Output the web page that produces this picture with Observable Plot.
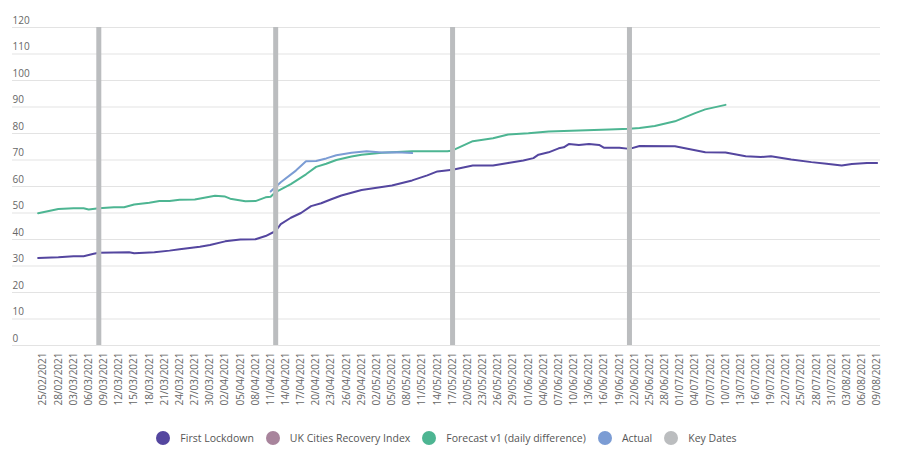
<!DOCTYPE html>
<html>
<head>
<meta charset="utf-8">
<script src="https://cdn.jsdelivr.net/npm/d3@7"></script>
<script src="https://cdn.jsdelivr.net/npm/@observablehq/plot@0.6"></script>
<style>
  html, body { margin: 0; padding: 0; background: #fff; }
  body { width: 900px; height: 460px; overflow: hidden; font-family: "Open Sans", sans-serif; }
  #legend { display: flex; justify-content: center; align-items: center; height: 36px; padding-right: 7px;
            font-size: 10.5px; color: #555; }
  .item { display: flex; align-items: center; margin: 0 6px; }
  .dot { width: 14px; height: 14px; border-radius: 50%; margin-right: 10px; }
</style>
</head>
<body>
<div id="chart"></div>
<div id="legend"></div>
<script>
// ---- Data ----
const lockdownDates = ["2021-02-24","2021-02-28","2021-03-03","2021-03-05","2021-03-07","2021-03-08","2021-03-14","2021-03-15","2021-03-19","2021-03-22","2021-03-24","2021-03-28","2021-03-30","2021-04-02","2021-04-05","2021-04-08","2021-04-10","2021-04-12","2021-04-13","2021-04-15","2021-04-17","2021-04-19","2021-04-21","2021-04-23","2021-04-25","2021-04-29","2021-05-05","2021-05-09","2021-05-12","2021-05-14","2021-05-17","2021-05-21","2021-05-25","2021-05-28","2021-05-31","2021-06-02","2021-06-03","2021-06-05","2021-06-07","2021-06-08","2021-06-09","2021-06-11","2021-06-13","2021-06-15","2021-06-16","2021-06-19","2021-06-21","2021-06-23","2021-06-30","2021-07-06","2021-07-10","2021-07-14","2021-07-17","2021-07-19","2021-07-23","2021-07-27","2021-07-30","2021-08-02","2021-08-04","2021-08-07","2021-08-09"];
const lockdownValues = [33,33.3,33.7,33.7,34.6,35.0,35.2,34.8,35.2,35.8,36.3,37.3,37.9,39.3,40.0,40.1,41.3,43.2,45.8,48.2,50.0,52.6,53.7,55.2,56.6,58.7,60.4,62.3,64.2,65.7,66.3,67.9,67.9,68.9,69.8,70.7,72.0,72.9,74.4,74.8,76.0,75.7,76.0,75.7,74.6,74.6,74.2,75.3,75.2,72.9,72.8,71.4,71.1,71.4,70.2,69.2,68.6,67.9,68.5,68.9,68.9];

const forecastDates = ["2021-02-24","2021-02-28","2021-03-03","2021-03-05","2021-03-06","2021-03-08","2021-03-11","2021-03-13","2021-03-15","2021-03-18","2021-03-20","2021-03-22","2021-03-24","2021-03-27","2021-03-31","2021-04-02","2021-04-03","2021-04-06","2021-04-08","2021-04-10","2021-04-11","2021-04-12","2021-04-15","2021-04-18","2021-04-20","2021-04-22","2021-04-24","2021-04-27","2021-04-29","2021-05-03","2021-05-09","2021-05-16","2021-05-17","2021-05-21","2021-05-25","2021-05-28","2021-06-01","2021-06-05","2021-06-11","2021-06-17","2021-06-21","2021-06-23","2021-06-26","2021-06-30","2021-07-04","2021-07-06","2021-07-10"];
const forecastValues = [49.9,51.5,51.8,51.8,51.3,51.8,52.2,52.2,53.2,53.9,54.5,54.5,55.0,55.1,56.5,56.2,55.4,54.4,54.5,55.9,56.1,57.9,60.9,64.6,67.4,68.6,70.0,71.3,72.0,72.7,73.3,73.3,73.6,77.1,78.2,79.6,80.1,80.8,81.1,81.5,81.8,82.1,82.8,84.6,87.7,89.1,90.8];

const actualDates = ["2021-04-11","2021-04-13","2021-04-16","2021-04-18","2021-04-20","2021-04-22","2021-04-24","2021-04-27","2021-04-30","2021-05-03","2021-05-06","2021-05-09"];
const actualValues = [58.1,61.6,66.0,69.5,69.6,70.6,71.8,72.7,73.3,72.8,72.9,72.6];

const keyDates = ["2021-03-08","2021-04-12","2021-05-17","2021-06-21"];

const yTicks = [0,10,20,30,40,50,60,70,80,90,100,110,120];
const xTickStart = "2021-02-25";
const xTickEnd = "2021-08-09";
const xDomain = ["2021-02-24","2021-08-09"];

const seriesNames = ["First Lockdown","UK Cities Recovery Index","Forecast v1 (daily difference)","Actual","Key Dates"];
const seriesColors = ["#54469f","#a8849c","#4db592","#7b9cd4","#bbbdbf"];

// ---- Build ----
const parse = d3.utcParse("%Y-%m-%d");
const lockdown = lockdownDates.map((d,i)=>({date: parse(d), value: lockdownValues[i]}));
const forecast = forecastDates.map((d,i)=>({date: parse(d), value: forecastValues[i]}));
const actual = actualDates.map((d,i)=>({date: parse(d), value: actualValues[i]}));
const keys = keyDates.map(parse);
const xTicks = d3.utcDay.every(1).range(parse(xTickStart), d3.utcDay.offset(parse(xTickEnd),1)).filter((d,i)=>i%3===0);

const W = 900, H = 420;
const chart = Plot.plot({
  width: W, height: H,
  marginLeft: 12, marginRight: 20, marginTop: 27, marginBottom: 75,
  style: {fontFamily: "'Open Sans', sans-serif", background: "#fff"},
  x: {type: "utc", domain: xDomain.map(parse), range: [37.65, 876.6]},
  y: {domain: [0,120]},
  marks: [
    Plot.ruleY(yTicks, {stroke: "#e3e3e3", strokeWidth: 1}),
    Plot.text(yTicks, {y: d=>d, text: d=>String(d), frameAnchor: "left", textAnchor: "start", dy: -7, fontSize: 10, fill: "#666"}),
    Plot.axisX({ticks: xTicks, tickFormat: d3.utcFormat("%d/%m/%Y"), tickRotate: -90, tickSize: 0, tickPadding: 7, fontSize: 10, fill: "#666", label: null}),
    Plot.axisY({ticks: [], label: null, tickSize: 0}),
    Plot.line(lockdown, {x: "date", y: "value", stroke: seriesColors[0], strokeWidth: 2}),
    Plot.line(forecast, {x: "date", y: "value", stroke: seriesColors[2], strokeWidth: 2}),
    Plot.line(actual, {x: "date", y: "value", stroke: seriesColors[3], strokeWidth: 2}),
    Plot.ruleX(keys, {y1: 0, y2: 120, stroke: seriesColors[4], strokeWidth: 5})
  ]
});
document.getElementById("chart").appendChild(chart);

const legend = document.getElementById("legend");
seriesNames.forEach((n,i)=>{
  const it = document.createElement("div"); it.className = "item";
  const dot = document.createElement("span"); dot.className = "dot"; dot.style.background = seriesColors[i];
  const t = document.createElement("span"); t.textContent = n;
  it.appendChild(dot); it.appendChild(t); legend.appendChild(it);
});
</script>
</body>
</html>
